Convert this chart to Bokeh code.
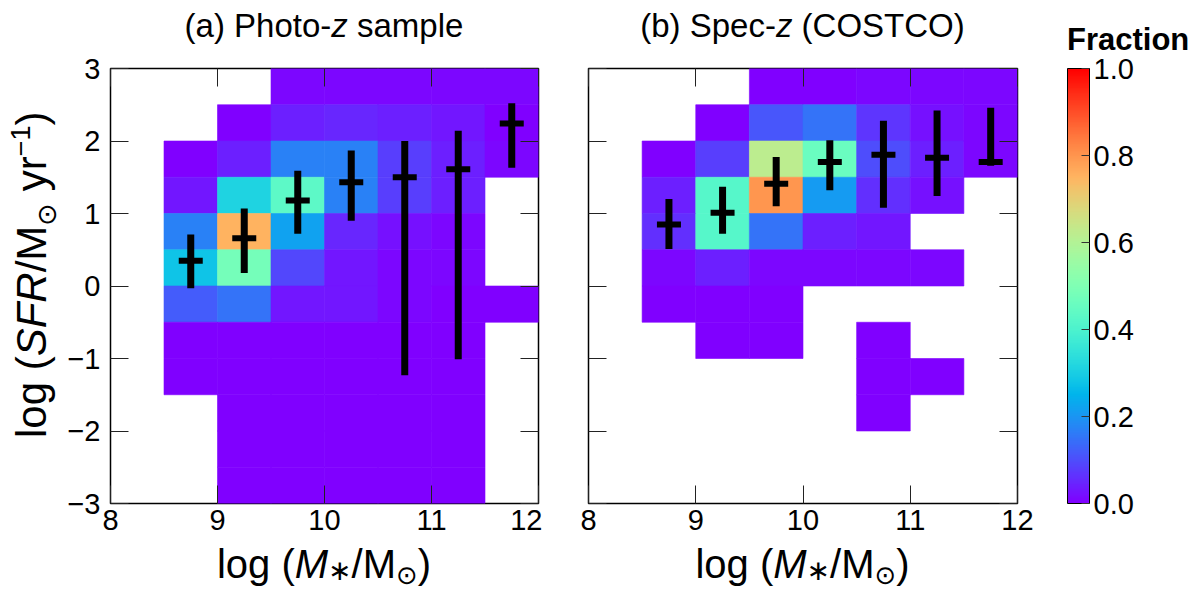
import math
from bokeh.plotting import figure
from bokeh.models import (ColumnDataSource, LinearColorMapper, ColorBar, FixedTicker,
                          LinearAxis, Range1d, PrintfTickFormatter, Div, CustomLabelingPolicy)
from bokeh.transform import transform
from bokeh.layouts import row, column
from bokeh.embed import file_html
from bokeh.resources import INLINE

# ---------------- data ----------------
mass_centers = [8.25, 8.75, 9.25, 9.75, 10.25, 10.75, 11.25, 11.75]
sfr_centers = [2.75, 2.25, 1.75, 1.25, 0.75, 0.25, -0.25, -0.75, -1.25, -1.75, -2.25, -2.75]
mass_ticks = [8, 9, 10, 11, 12]
sfr_ticks = [-3, -2, -1, 0, 1, 2, 3]
frac_ticks = [0.0, 0.2, 0.4, 0.6, 0.8, 1.0]
N = None
photo_frac = [
    [N, N, N, 0.01, 0.01, 0.01, 0.01, 0.01],
    [N, N, 0.0, 0.04, 0.05, 0.04, 0.03, 0.0],
    [N, 0.0, 0.04, 0.17, 0.17, 0.08, 0.04, 0.01],
    [N, 0.03, 0.31, 0.43, 0.17, 0.08, 0.04, N],
    [N, 0.17, 0.75, 0.22, 0.05, 0.02, 0.01, N],
    [N, 0.28, 0.48, 0.09, 0.03, 0.01, 0.01, N],
    [N, 0.12, 0.15, 0.03, 0.03, 0.01, 0.0, 0.0],
    [N, 0.0, 0.0, 0.0, 0.0, 0.0, 0.0, N],
    [N, 0.0, 0.0, 0.0, 0.0, 0.0, 0.0, N],
    [N, N, 0.0, 0.0, 0.0, 0.0, 0.0, N],
    [N, N, 0.0, 0.0, 0.0, 0.0, 0.0, N],
    [N, N, 0.0, 0.0, 0.0, 0.0, 0.0, N],
]
spec_frac = [
    [N, N, N, 0.0, 0.0, 0.01, 0.01, 0.01],
    [N, N, 0.0, 0.11, 0.15, 0.07, 0.02, 0.01],
    [N, 0.0, 0.08, 0.62, 0.46, 0.10, 0.04, 0.01],
    [N, 0.04, 0.42, 0.80, 0.21, 0.06, 0.02, N],
    [N, 0.06, 0.42, 0.15, 0.04, 0.03, N, N],
    [N, 0.01, 0.04, 0.01, 0.01, 0.01, 0.01, N],
    [N, 0.0, 0.0, 0.0, N, N, N, N],
    [N, N, 0.0, 0.0, N, 0.0, N, N],
    [N, N, N, N, N, 0.0, 0.0, N],
    [N, N, N, N, N, 0.0, N, N],
    [N, N, N, N, N, N, N, N],
    [N, N, N, N, N, N, N, N],
]
med_mass = [8.75, 9.25, 9.75, 10.25, 10.75, 11.25, 11.75]
photo_med = [0.35, 0.66, 1.18, 1.43, 1.50, 1.61, 2.24]
photo_lo = [-0.03, 0.18, 0.72, 0.90, -1.23, -1.01, 1.63]
photo_hi = [0.71, 1.07, 1.59, 1.87, 2.00, 2.14, 2.52]
spec_med = [0.85, 1.01, 1.41, 1.71, 1.81, 1.77, 1.71]
spec_lo = [0.51, 0.72, 1.10, 1.32, 1.08, 1.24, 1.66]
spec_hi = [1.20, 1.37, 1.78, 2.01, 2.28, 2.42, 2.46]

title_a = "(a) Photo-<i>z</i> sample"
title_b = "(b) Spec-<i>z</i> (COSTCO)"
xlabel = ("log (<i>M</i><span style='font-size:28px;vertical-align:-2px;line-height:0'>\u2217</span>"
          "/M<span style='font-size:26px;vertical-align:-6px;line-height:0'>\u2299</span>)")
ylabel = ("log (<i>SFR</i>/M<span style='font-size:27px;vertical-align:-10px;line-height:0'>\u2299</span>"
          " yr<span style='font-size:27px;vertical-align:16px;line-height:0'>\u22121</span>)")
cbar_title = "Fraction"

# ---------------- style ----------------
FONT = "Liberation Sans"
CSS_FONT = "'Liberation Sans', 'DejaVu Sans', sans-serif"
FRAME_H = 435
TOP_DIV = 52
TOP = 16         # frame top at 68
BOTTOM = 42      # x tick labels band
XLAB_H = 591 - TOP_DIV - TOP - FRAME_H - BOTTOM

def rainbow(n=256):
    out = []
    for i in range(n):
        t = i / (n - 1)
        r = min(1.0, abs(2 * t - 0.5))
        g = math.sin(math.pi * t)
        b = math.cos(math.pi * t / 2)
        out.append("#%02x%02x%02x" % (round(r * 255), round(max(g, 0) * 255), round(max(b, 0) * 255)))
    return out

mapper = LinearColorMapper(palette=rainbow(), low=0, high=1)

hide_policy = CustomLabelingPolicy(code="""
try { const all = [...indices]; for (const i of all) indices.unset(i); } catch (e) {}
return indices;
""")

def style_axis(ax, labels=True, size="29px", standoff=6):
    ax.axis_line_color = None
    ax.major_tick_in = 18
    ax.major_tick_out = 0
    ax.minor_tick_line_color = None
    ax.major_tick_line_color = "#222222"
    ax.major_tick_line_width = 1
    ax.major_label_text_font = FONT
    ax.major_label_text_color = "black"
    if labels:
        ax.major_label_text_font_size = size
        ax.major_label_standoff = standoff
    else:
        ax.major_label_text_font_size = "1px"
        ax.major_label_standoff = 0
        ax.major_label_policy = hide_policy

def make_panel(frac, med, lo, hi, frame_w, bl, br, ylabels):
    p = figure(x_range=Range1d(mass_ticks[0], mass_ticks[-1]),
               y_range=Range1d(sfr_ticks[0], sfr_ticks[-1]),
               frame_width=frame_w, frame_height=FRAME_H,
               min_border_left=bl, min_border_right=br, min_border_top=TOP, min_border_bottom=BOTTOM,
               output_backend="svg", toolbar_location=None)
    p.grid.visible = False
    p.outline_line_color = "black"
    p.outline_line_width = 1.5
    p.background_fill_color = "white"
    p.border_fill_color = "white"

    dx = mass_centers[1] - mass_centers[0]
    dy = sfr_centers[0] - sfr_centers[1]
    xs, ys, fs = [], [], []
    for i, yc in enumerate(sfr_centers):
        for j, xc in enumerate(mass_centers):
            v = frac[i][j]
            if v is not None:
                xs.append(xc); ys.append(yc); fs.append(v)
    src = ColumnDataSource(dict(x=xs, y=ys, f=fs))
    p.rect(x="x", y="y", width=dx, height=dy, source=src,
           fill_color=transform("f", mapper), line_color=transform("f", mapper), line_width=0.6)

    es = ColumnDataSource(dict(m=med_mass, med=med, lo=lo, hi=hi))
    p.segment(x0="m", y0="lo", x1="m", y1="hi", source=es, line_width=7, line_color="black")
    p.scatter(x="m", y="med", source=es, marker="dash", size=24, line_width=6, line_color="black")

    p.xaxis.ticker = FixedTicker(ticks=mass_ticks)
    p.yaxis.ticker = FixedTicker(ticks=sfr_ticks)
    style_axis(p.xaxis[0], True, standoff=6)
    if ylabels:
        p.yaxis.major_label_overrides = {t: ("\u2212%d" % -t if t < 0 else "%d" % t) for t in sfr_ticks}
    style_axis(p.yaxis[0], ylabels, standoff=10)
    top = LinearAxis(ticker=FixedTicker(ticks=mass_ticks))
    right = LinearAxis(ticker=FixedTicker(ticks=sfr_ticks))
    style_axis(top, False)
    style_axis(right, False)
    p.add_layout(top, "above")
    p.add_layout(right, "right")
    return p

def text_div(width, height, items):
    # items: (html, left, top, extra_css)
    inner = ""
    for html, left, top, css in items:
        inner += ("<div style=\"position:absolute;left:%spx;top:%spx;white-space:nowrap;"
                  "font-family:%s;color:black;%s\">%s</div>" % (left, top, CSS_FONT, css, html))
    return Div(text="<div style=\"position:relative;width:%dpx;height:%dpx;\">%s</div>" % (width, height, inner),
               width=width, height=height, margin=0)

# panels
P1_LEFT = 50
P2_LEFT = 46
p1 = make_panel(photo_frac, photo_med, photo_lo, photo_hi, 428, P1_LEFT, 0, True)
p2 = make_panel(spec_frac, spec_med, spec_lo, spec_hi, 429, P2_LEFT, 180, False)

cb = ColorBar(color_mapper=mapper, width=22, height=FRAME_H, padding=0, margin=0,
              location=(479, 0), ticker=FixedTicker(ticks=frac_ticks),
              formatter=PrintfTickFormatter(format="%.1f"),
              major_label_text_font=FONT, major_label_text_font_size="29px",
              major_label_text_color="black", label_standoff=4,
              major_tick_in=8, major_tick_out=0, major_tick_line_color="#333333",
              minor_tick_line_color=None, bar_line_color="black", bar_line_width=1,
              background_fill_color=None, border_line_color=None)
p2.add_layout(cb)

W1 = P1_LEFT + 428
W2 = 1198 - 60 - W1 - 5
TITLE_CSS = "font-size:33px;line-height:33px;text-align:center;width:%dpx;"
AX_CSS = "font-size:40px;line-height:40px;text-align:center;width:%dpx;"

t1 = text_div(W1, TOP_DIV, [(title_a, P1_LEFT, 9, TITLE_CSS % 428)])
t2 = text_div(W2, TOP_DIV, [(title_b, P2_LEFT, 9, TITLE_CSS % 429),
                            (cbar_title, P2_LEFT + 429 + 50, 24,
                             "font-size:31px;line-height:31px;font-weight:bold;")])
x1 = text_div(W1, XLAB_H, [(xlabel, P1_LEFT, -1, AX_CSS % 428)])
x2 = text_div(W2, XLAB_H, [(xlabel, P2_LEFT, -1, AX_CSS % 429)])
yl = text_div(60, 591, [(ylabel, 11, 438,
                         "font-size:42px;line-height:42px;transform:rotate(-90deg);transform-origin:0 0;")])

layout = row(yl, column(t1, p1, x1), column(t2, p2, x2))
open("out.html", "w").write(file_html(layout, INLINE))
